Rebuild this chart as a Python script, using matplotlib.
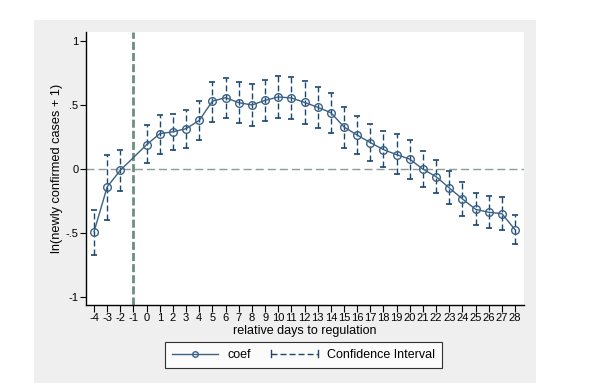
import matplotlib
matplotlib.use("Agg")
import matplotlib.pyplot as plt
from matplotlib.patches import Rectangle
from matplotlib.lines import Line2D
from matplotlib.legend_handler import HandlerBase
import numpy as np

plt.rcParams['font.family'] = ['Liberation Sans', 'DejaVu Sans']

days = [-4, -3, -2, 0, 1, 2, 3, 4, 5, 6, 7, 8, 9, 10, 11, 12, 13, 14, 15, 16, 17, 18, 19, 20, 21, 22, 23, 24, 25, 26, 27, 28]
coef = [-0.49, -0.14, -0.01, 0.19, 0.276, 0.29, 0.315, 0.38, 0.53, 0.557, 0.518, 0.50, 0.536, 0.5625, 0.555, 0.52, 0.482, 0.44, 0.328, 0.265, 0.206, 0.151, 0.112, 0.077, -0.002, -0.06, -0.148, -0.234, -0.315, -0.338, -0.349, -0.474]
ci_hi = [-0.32, 0.11, 0.15, 0.34, 0.42, 0.43, 0.463, 0.53, 0.68, 0.713, 0.677, 0.66, 0.693, 0.727, 0.716, 0.685, 0.638, 0.59, 0.482, 0.41, 0.35, 0.294, 0.273, 0.224, 0.137, 0.073, -0.018, -0.104, -0.19, -0.213, -0.221, -0.362]
ci_lo = [-0.67, -0.40, -0.17, 0.045, 0.12, 0.148, 0.16, 0.23, 0.365, 0.396, 0.36, 0.333, 0.372, 0.396, 0.388, 0.35, 0.318, 0.28, 0.16, 0.115, 0.0625, 0.013, -0.042, -0.078, -0.14, -0.19, -0.273, -0.364, -0.44, -0.463, -0.479, -0.586]
xticks = list(range(-4, 29))
yticks = [-1, -0.5, 0, 0.5, 1]
yticklabels = ['-1', '-.5', '0', '.5', '1']

W, H = 599, 383
fig = plt.figure(figsize=(W / 100, H / 100), dpi=100)
fig.patch.set_facecolor('white')
fig.patches.append(Rectangle((34 / W, 0), (536 - 34) / W, (383 - 20) / H,
                             transform=fig.transFigure, facecolor='#efefef',
                             edgecolor='none', zorder=-10))

ax = fig.add_axes([86 / W, (H - 305) / H, (524 - 86) / W, (305 - 32) / H])
ax.set_zorder(1)
ax.set_facecolor('white')
navy = '#1a476f'
lcol = '#3a6186'
ax.set_xlim(-4.61, 28.68)
ax.set_ylim(-1.0625, 1.07)

ax.axhline(0, color='#8a9e98', lw=1.0, ls=(0, (5.8, 2.9)), zorder=1)
ax.axvline(-1, color='#6e8e84', lw=2.0, ls=(0, (2.9, 1.1)), zorder=1)

x = np.array(days)
ax.vlines(x, ci_lo, ci_hi, colors=navy, lw=1.0, linestyles=(0, (4.3, 2.2)), zorder=2)
ax.scatter(x, ci_hi, marker='_', s=16, color=navy, linewidths=1.2, zorder=2)
ax.scatter(x, ci_lo, marker='_', s=16, color=navy, linewidths=1.2, zorder=2)
ax.plot(x, coef, color=lcol, lw=1.0, marker='o', ms=5.5, mfc='none',
        mec=lcol, mew=1.0, zorder=3)

for s in ['top', 'right']:
    ax.spines[s].set_visible(False)
for s in ['left', 'bottom']:
    ax.spines[s].set_linewidth(1.0)
    ax.spines[s].set_color('black')

ax.set_xticks(xticks)
ax.set_xticklabels([str(t) for t in xticks], fontsize=8)
ax.set_yticks(yticks)
ax.set_yticklabels(yticklabels, fontsize=8)
ax.tick_params(axis='both', length=4, width=0.8, color='black', pad=1.5)
ax.tick_params(axis='x', length=5, pad=1)
ax.set_xlabel('relative days to regulation', fontsize=9, labelpad=1)
ax.set_ylabel('ln(newly confirmed cases + 1)', fontsize=9.2, va='center')
ax.yaxis.set_label_coords((57 - 86) / (524 - 86), 0.5)


class CIHandler(HandlerBase):
    def create_artists(self, legend, orig_handle, xdescent, ydescent,
                       width, height, fontsize, trans):
        y = height / 2 - ydescent
        x0, x1 = -xdescent, -xdescent + width
        line = Line2D([x0, x1], [y, y], color=navy, lw=1.0, ls=(0, (4.3, 2.2)),
                      transform=trans)
        t0 = Line2D([x0, x0], [y - 2.5, y + 2.5], color=navy, lw=1.0, transform=trans)
        t1 = Line2D([x1, x1], [y - 2.5, y + 2.5], color=navy, lw=1.0, transform=trans)
        return [line, t0, t1]


coef_h = Line2D([0], [0], color=lcol, lw=1.0, marker='o', ms=4, mfc='none', mec=lcol)
ci_h = Line2D([0], [0], color=navy)
leg = ax.legend(handles=[coef_h, ci_h],
                labels=['coef', 'Confidence Interval'], ncol=2, fontsize=9,
                handler_map={ci_h: CIHandler()},
                loc='center', bbox_to_anchor=((303.5 - 86) / (524 - 86), -(355 - 305) / (305 - 32)),
                frameon=True, fancybox=False, edgecolor='black', facecolor='white',
                handlelength=3.7, handletextpad=0.75, columnspacing=1.6,
                borderpad=0.55, borderaxespad=0)
leg.get_frame().set_linewidth(0.8)

fig.savefig('out.png', dpi=100, facecolor=fig.get_facecolor())
